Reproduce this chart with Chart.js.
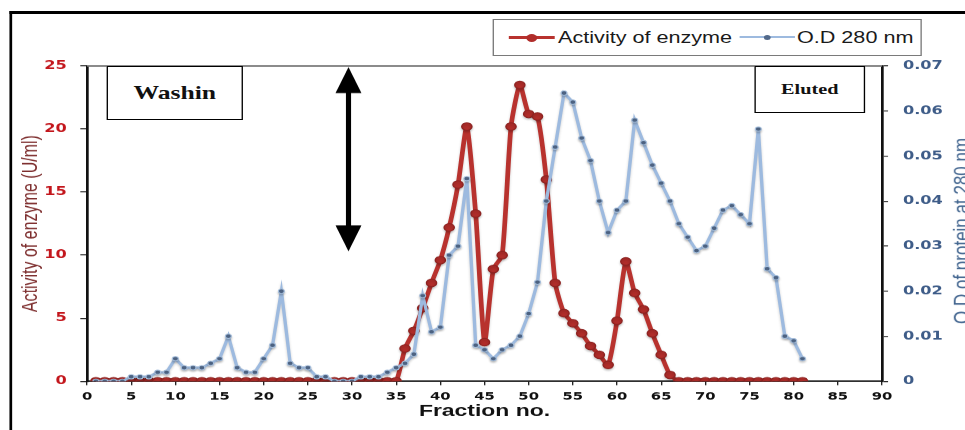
<!DOCTYPE html>
<html lang="en">
<head>
    <meta charset="UTF-8">
    <title>Enzyme activity and protein elution profile</title>
    <script src="https://cdn.jsdelivr.net/npm/chart.js"></script>
    <style>
        html, body {
            margin: 0;
            padding: 0;
            background: #ffffff;
            overflow: hidden;
        }
        body {
            width: 965px;
            height: 430px;
            position: relative;
        }
        /* the original figure is stretched sideways, so the whole stage is too */
        .stage {
            position: absolute;
            left: 0;
            top: 0;
            width: 715px;
            height: 430px;
            transform-origin: 0 0;
            transform: scaleX(1.34965);
        }
        .stage canvas {
            position: absolute;
            left: 0;
            top: 0;
        }
        .frame {
            position: absolute;
            left: 7px;
            top: 11px;
            width: 900px;
            height: 600px;
            border-left: 2.5px solid #000;
            border-top: 3px solid #000;
        }
        .legend {
            position: absolute;
            left: 364.5px;
            top: 19px;
            width: 318px;
            height: 37px;
            border: 1.5px solid #7a7a7a;
            box-sizing: border-box;
            background: #fff;
            font-family: 'Liberation Sans', Arial, sans-serif;
            font-size: 16px;
            color: #1a1a1a;
        }
        .legend .sym {
            position: absolute;
            top: 50%;
            height: 3px;
            margin-top: -1.5px;
        }
        .legend .sym i {
            position: absolute;
            left: 50%;
            top: 50%;
            border-radius: 50%;
        }
        .legend .red { left: 11px; width: 34px; background: #b8322e; }
        .legend .red i { width: 8px; height: 8px; margin: -4px 0 0 -4px; background: #b02d2a; }
        .legend .blue { left: 182px; width: 41px; height: 2px; background: #9dbadf; }
        .legend .blue i { width: 5px; height: 5px; margin: -2.5px 0 0 -2.5px; background: #52698a; }
        .legend .txt {
            position: absolute;
            top: 50%;
            transform: translateY(-50%);
            white-space: nowrap;
        }
        .note {
            position: absolute;
            box-sizing: border-box;
            border: 1.5px solid #000;
            background: #fff;
            display: flex;
            align-items: center;
            justify-content: center;
            font-family: 'Liberation Serif', 'Times New Roman', serif;
            font-weight: bold;
            color: #111;
        }
        .washin { left: 79px; top: 66px; width: 101px; height: 54px; font-size: 19px; }
        .eluted { left: 559px; top: 66px; width: 82px; height: 47px; font-size: 15px; }
        .od-title {
            position: absolute;
            left: 712.5px;
            top: 231px;
            transform: translate(-50%, -50%) rotate(-90deg);
            white-space: nowrap;
            font-family: 'Liberation Sans', Arial, sans-serif;
            font-size: 17px;
            color: #42658f;
        }
    </style>
</head>
<body>
    <div class="stage">
        <canvas id="fractionChart" width="715" height="430"></canvas>
        <div class="frame"></div>
        <div class="legend">
            <span class="sym red"><i></i></span><span class="txt" style="left:48px">Activity of enzyme</span>
            <span class="sym blue"><i></i></span><span class="txt" style="left:225px">O.D 280 nm</span>
        </div>
        <div class="note washin">Washin</div>
        <div class="note eluted">Eluted</div>
        <div class="od-title">O.D of protein at 280 nm</div>
    </div>
    <script>
        // fraction numbers 1..81
        const fractions = Array.from({ length: 81 }, (_, i) => i + 1);

        // enzyme activity (U/ml), left axis
        const enzymeActivity = [
            0, 0, 0, 0, 0, 0, 0, 0, 0, 0,
            0, 0, 0, 0, 0, 0, 0, 0, 0, 0,
            0, 0, 0, 0, 0, 0, 0, 0, 0, 0,
            0, 0, 0, 0, 0, 2.6, 4.0, 5.8, 7.8, 9.6,
            12.2, 15.6, 20.2, 13.3, 3.1, 8.9, 10.0, 20.2, 23.5, 21.2,
            21.0, 16.0, 7.8, 5.4, 4.6, 3.8, 2.8, 2.1, 1.3, 4.8,
            9.5, 7.0, 5.7, 3.8, 2.1, 0.5, 0, 0, 0, 0,
            0, 0, 0, 0, 0, 0, 0, 0, 0, 0, 0
        ];

        // O.D at 280 nm, right axis
        const odProtein = [
            0, 0, 0, 0, 0.001, 0.001, 0.001, 0.002, 0.002, 0.005,
            0.003, 0.003, 0.003, 0.004, 0.005, 0.010, 0.003, 0.002, 0.002, 0.005,
            0.008, 0.020, 0.004, 0.003, 0.003, 0.001, 0.001, 0, 0, 0,
            0.001, 0.001, 0.001, 0.002, 0.003, 0.004, 0.006, 0.019, 0.011, 0.012,
            0.028, 0.030, 0.045, 0.008, 0.007, 0.005, 0.007, 0.008, 0.010, 0.015,
            0.022, 0.040, 0.052, 0.064, 0.062, 0.054, 0.049, 0.040, 0.033, 0.038,
            0.040, 0.058, 0.053, 0.048, 0.044, 0.040, 0.035, 0.032, 0.029, 0.030,
            0.034, 0.038, 0.039, 0.037, 0.035, 0.056, 0.025, 0.023, 0.010, 0.009, 0.005
        ];

        const xMax = 90, xStep = 5;
        const activityMax = 25, activityStep = 5;
        const odMax = 0.07, odStep = 0.01;

        // where the washing/elution arrow sits (fraction, activity range)
        const arrowFraction = 29.6;
        const arrowLow = 10.3;

        const extras = {
            id: 'extras',
            beforeDatasetDraw(chart) {
                const ctx = chart.ctx;
                ctx.save();
                ctx.shadowColor = 'rgba(0,0,0,0.2)';
                ctx.shadowBlur = 3;
                ctx.shadowOffsetY = 2;
            },
            afterDatasetDraw(chart) {
                chart.ctx.restore();
            },
            afterDraw(chart) {
                const ctx = chart.ctx;
                const area = chart.chartArea;
                ctx.save();
                // top edge of the plot
                ctx.strokeStyle = '#707070';
                ctx.lineWidth = 1.5;
                ctx.beginPath();
                ctx.moveTo(area.left, area.top);
                ctx.lineTo(area.right, area.top);
                ctx.stroke();

                // double headed arrow
                const x = chart.scales.x.getPixelForValue(arrowFraction);
                const yTop = area.top + 1;
                const yBot = chart.scales.y.getPixelForValue(arrowLow);
                const head = 26, half = 9.6;
                ctx.fillStyle = '#000';
                ctx.fillRect(x - 1.9, yTop + head - 2, 3.8, yBot - yTop - 2 * head + 4);
                ctx.beginPath();
                ctx.moveTo(x, yTop);
                ctx.lineTo(x + half, yTop + head);
                ctx.lineTo(x - half, yTop + head);
                ctx.closePath();
                ctx.fill();
                ctx.beginPath();
                ctx.moveTo(x, yBot);
                ctx.lineTo(x + half, yBot - head);
                ctx.lineTo(x - half, yBot - head);
                ctx.closePath();
                ctx.fill();
                ctx.restore();
            }
        };

        const ctx = document.getElementById('fractionChart').getContext('2d');
        new Chart(ctx, {
            type: 'line',
            data: {
                datasets: [{
                    label: 'Activity of enzyme',
                    data: fractions.map((f, i) => ({ x: f, y: enzymeActivity[i] })),
                    yAxisID: 'y',
                    order: 1,
                    borderColor: '#b8322e',
                    borderWidth: 3.5,
                    tension: 0.2,
                    pointRadius: 3.8,
                    pointBackgroundColor: '#b02d2a',
                    pointBorderColor: '#8e2321',
                    pointBorderWidth: 1
                }, {
                    label: 'O.D 280 nm',
                    data: fractions.map((f, i) => ({ x: f, y: odProtein[i] })),
                    yAxisID: 'y1',
                    order: 0,
                    borderColor: '#9dbadf',
                    borderWidth: 2.5,
                    tension: 0,
                    pointRadius: 2.2,
                    pointBackgroundColor: '#52698a',
                    pointBorderColor: '#a7c0de',
                    pointBorderWidth: 0.8
                }]
            },
            options: {
                responsive: false,
                animation: false,
                devicePixelRatio: 965 / 715,
                layout: { padding: { top: 66, left: 7, right: 0, bottom: 0 } },
                plugins: {
                    legend: { display: false },
                    tooltip: { enabled: false }
                },
                scales: {
                    x: {
                        type: 'linear',
                        min: 0,
                        max: xMax,
                        afterFit: (s) => { s.height = 49; },
                        ticks: {
                            stepSize: xStep,
                            color: '#111',
                            padding: 5,
                            font: { family: 'DejaVu Sans', size: 11, weight: 'bold' }
                        },
                        grid: { drawOnChartArea: false, tickLength: 4, color: '#222' },
                        border: { color: '#222', width: 1.5 },
                        title: {
                            display: true,
                            text: 'Fraction no.',
                            color: '#111',
                            padding: { top: 0, bottom: 8.8 },
                            font: { family: 'Liberation Sans', size: 17, weight: 'bold' }
                        }
                    },
                    y: {
                        position: 'left',
                        min: 0,
                        max: activityMax,
                        afterFit: (s) => { s.width = 57.5; },
                        ticks: {
                            stepSize: activityStep,
                            color: '#c3161c',
                            padding: 10,
                            font: { family: 'DejaVu Sans', size: 12, weight: 'bold' }
                        },
                        grid: { drawOnChartArea: false, tickLength: 5, color: '#222' },
                        border: { color: '#111', width: 2 },
                        title: {
                            display: true,
                            text: 'Activity of enzyme (U/ml)',
                            color: '#7e2f2f',
                            padding: { top: 6.4, bottom: 0 },
                            font: { family: 'Liberation Sans', size: 16 }
                        }
                    },
                    y1: {
                        position: 'right',
                        min: 0,
                        max: odMax,
                        afterFit: (s) => { s.width = 61.5; },
                        ticks: {
                            stepSize: odStep,
                            color: '#3e5c88',
                            padding: 11,
                            font: { family: 'DejaVu Sans', size: 12, weight: 'bold' },
                            callback: (v) => v === 0 ? '0' : v.toFixed(2)
                        },
                        grid: { drawOnChartArea: false, tickLength: 4.5, color: '#222' },
                        border: { color: '#111', width: 2 }
                    }
                }
            },
            plugins: [extras]
        });
    </script>
</body>
</html>
